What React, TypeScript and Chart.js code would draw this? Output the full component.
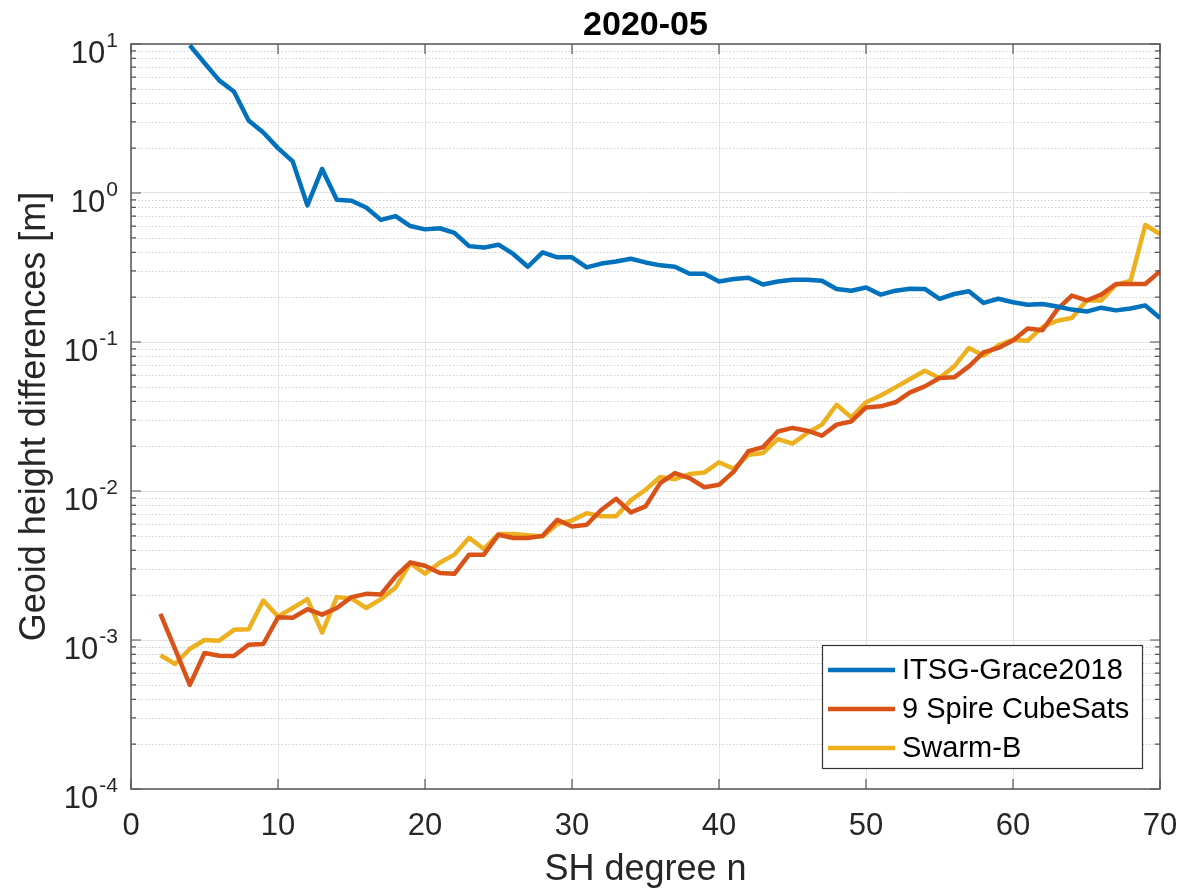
import { useEffect, useRef } from "react";
import { Chart, registerables } from "chart.js";

Chart.register(...registerables);

// ---------- data ----------
const degrees = [
  2, 3, 4, 5, 6, 7, 8, 9, 10, 11, 12, 13, 14, 15, 16, 17, 18, 19, 20, 21, 22, 23, 24, 25, 26, 27, 28, 29, 30,
  31, 32, 33, 34, 35, 36, 37, 38, 39, 40, 41, 42, 43, 44, 45, 46, 47, 48, 49, 50, 51, 52, 53, 54, 55, 56, 57,
  58, 59, 60, 61, 62, 63, 64, 65, 66, 67, 68, 69, 70,
];

const itsgGrace2018 = [
  null, null, 9.8, 7.45, 5.7, 4.8, 3.07, 2.55, 2.0, 1.63, 0.826, 1.45, 0.9, 0.887, 0.8, 0.66, 0.7, 0.6, 0.57,
  0.58, 0.54, 0.44, 0.43, 0.45, 0.39, 0.32, 0.4, 0.37, 0.37, 0.317, 0.336, 0.347, 0.362, 0.342, 0.327, 0.32,
  0.287, 0.287, 0.255, 0.265, 0.27, 0.243, 0.255, 0.262, 0.262, 0.258, 0.227, 0.221, 0.232, 0.208, 0.221,
  0.228, 0.227, 0.195, 0.21, 0.219, 0.183, 0.195, 0.185, 0.178, 0.18, 0.173, 0.165, 0.16, 0.17, 0.163, 0.168,
  0.176, 0.145,
];

const spireCubeSats = [
  1.5e-3, 0.87e-3, 0.5e-3, 0.818e-3, 0.785e-3, 0.78e-3, 0.93e-3, 0.94e-3, 1.42e-3, 1.41e-3, 1.61e-3, 1.48e-3,
  1.64e-3, 1.94e-3, 2.04e-3, 2.02e-3, 2.67e-3, 3.32e-3, 3.15e-3, 2.82e-3, 2.78e-3, 3.74e-3, 3.74e-3, 5.09e-3,
  4.84e-3, 4.84e-3, 5.0e-3, 6.41e-3, 5.78e-3, 5.94e-3, 7.49e-3, 8.87e-3, 7.18e-3, 7.88e-3, 1.13e-2, 1.32e-2,
  1.22e-2, 1.06e-2, 1.1e-2, 1.35e-2, 1.85e-2, 1.97e-2, 2.51e-2, 2.65e-2, 2.54e-2, 2.35e-2, 2.79e-2, 2.93e-2,
  3.64e-2, 3.7e-2, 3.94e-2, 4.59e-2, 5.04e-2, 5.73e-2, 5.79e-2, 6.86e-2, 8.51e-2, 9.12e-2, 0.1025, 0.123, 0.12,
  0.165, 0.205, 0.19, 0.208, 0.245, 0.245, 0.245, 0.298,
];

const swarmB = [
  0.79e-3, 0.69e-3, 0.87e-3, 1.0e-3, 0.99e-3, 1.17e-3, 1.18e-3, 1.84e-3, 1.44e-3, 1.64e-3, 1.88e-3, 1.12e-3,
  1.94e-3, 1.9e-3, 1.64e-3, 1.88e-3, 2.25e-3, 3.28e-3, 2.79e-3, 3.3e-3, 3.74e-3, 4.85e-3, 4.08e-3, 5.14e-3,
  5.14e-3, 5.05e-3, 4.95e-3, 6.0e-3, 6.35e-3, 7.1e-3, 6.76e-3, 6.76e-3, 8.65e-3, 1.02e-2, 1.24e-2, 1.2e-2,
  1.3e-2, 1.33e-2, 1.56e-2, 1.41e-2, 1.75e-2, 1.8e-2, 2.23e-2, 2.08e-2, 2.45e-2, 2.79e-2, 3.79e-2, 3.12e-2,
  3.94e-2, 4.38e-2, 4.96e-2, 5.65e-2, 6.42e-2, 5.73e-2, 6.86e-2, 9.12e-2, 8.1e-2, 9.49e-2, 0.1036, 0.102,
  0.126, 0.139, 0.145, 0.19, 0.19, 0.242, 0.258, 0.61, 0.53,
];

const seriesLabels = ["ITSG-Grace2018", "9 Spire CubeSats", "Swarm-B"];
const seriesColors = ["#0072BD", "#D95319", "#EDB120"];

const xTickValues = [0, 10, 20, 30, 40, 50, 60, 70];
const yDecadeExponents = [-4, -3, -2, -1, 0, 1];
const yMinorMultipliers = [2, 3, 4, 5, 6, 7, 8, 9];

const titleText = "2020-05";
const xTitleText = "SH degree n";
const yTitleText = "Geoid height differences [m]";

// ---------- helpers ----------
const FONT = '"Liberation Sans", Arial, Helvetica, sans-serif';
const TEXT = "#262626";
const AXIS = "#555555";

const yDecadeValues = yDecadeExponents.map((e) => Math.pow(10, e));
const yMinorValues: number[] = [];
yDecadeExponents.slice(0, -1).forEach((e) => {
  yMinorMultipliers.forEach((m) => yMinorValues.push(m * Math.pow(10, e)));
});
const allYTicks = [...yDecadeValues, ...yMinorValues].sort((a, b) => a - b);

const isDecade = (v: number) => {
  const l = Math.log10(v);
  return Math.abs(l - Math.round(l)) < 1e-6;
};

const decorPlugin = {
  id: "matlabDecor",
  beforeDatasetsDraw(chart: any) {
    const { ctx, chartArea } = chart;
    const y = chart.scales.y;
    ctx.save();
    ctx.strokeStyle = "#cfcfcf";
    ctx.lineWidth = 1;
    ctx.setLineDash([1.5, 2]);
    yMinorValues.forEach((v) => {
      const py = Math.round(y.getPixelForValue(v)) + 0.5;
      ctx.beginPath();
      ctx.moveTo(chartArea.left, py);
      ctx.lineTo(chartArea.right, py);
      ctx.stroke();
    });
    ctx.restore();
  },
  afterDatasetsDraw(chart: any) {
    const { ctx, chartArea } = chart;
    const { left, right, top, bottom } = chartArea;
    const xs = chart.scales.x;
    const ys = chart.scales.y;
    ctx.save();

    // axes box
    ctx.strokeStyle = AXIS;
    ctx.lineWidth = 1.5;
    ctx.setLineDash([]);
    ctx.strokeRect(left, top, right - left, bottom - top);

    // x tick marks (inward, top & bottom)
    ctx.lineWidth = 1.2;
    xTickValues.forEach((v) => {
      const px = xs.getPixelForValue(v);
      ctx.beginPath();
      ctx.moveTo(px, bottom);
      ctx.lineTo(px, bottom - 10);
      ctx.moveTo(px, top);
      ctx.lineTo(px, top + 10);
      ctx.stroke();
    });
    // y tick marks (inward, left & right)
    allYTicks.forEach((v) => {
      const py = ys.getPixelForValue(v);
      const len = isDecade(v) ? 10 : 5;
      ctx.beginPath();
      ctx.moveTo(left, py);
      ctx.lineTo(left + len, py);
      ctx.moveTo(right, py);
      ctx.lineTo(right - len, py);
      ctx.stroke();
    });

    // x tick labels
    ctx.fillStyle = TEXT;
    ctx.font = `31px ${FONT}`;
    ctx.textAlign = "center";
    ctx.textBaseline = "alphabetic";
    xTickValues.forEach((v) => {
      ctx.fillText(String(v), xs.getPixelForValue(v), 835);
    });

    // y tick labels: 10 with superscript exponent
    yDecadeExponents.forEach((e) => {
      const py = ys.getPixelForValue(Math.pow(10, e));
      const expStr = String(e);
      ctx.font = `21px ${FONT}`;
      const expW = ctx.measureText(expStr).width;
      ctx.textAlign = "right";
      ctx.fillText(expStr, 118, py + 3);
      ctx.font = `31px ${FONT}`;
      ctx.fillText("10", 118 - expW - 1, py + 19);
    });

    // x axis title
    ctx.font = `36px ${FONT}`;
    ctx.textAlign = "center";
    ctx.fillText(xTitleText, (left + right) / 2, 880);

    // y axis title
    ctx.save();
    ctx.translate(45, (top + bottom) / 2);
    ctx.rotate(-Math.PI / 2);
    ctx.textAlign = "center";
    ctx.fillText(yTitleText, 0, 0);
    ctx.restore();

    // title
    ctx.fillStyle = "#000000";
    ctx.font = `bold 34px ${FONT}`;
    ctx.textAlign = "center";
    ctx.fillText(titleText, (left + right) / 2, 35);

    // legend
    const lx = 822;
    const ly = 645;
    const lw = 320;
    const lh = 123;
    ctx.fillStyle = "#ffffff";
    ctx.fillRect(lx, ly, lw, lh);
    ctx.strokeStyle = "#333333";
    ctx.lineWidth = 1.2;
    ctx.strokeRect(lx + 0.5, ly + 0.5, lw, lh);
    const rowY = [670, 709, 748];
    chart.data.datasets.forEach((ds: any, i: number) => {
      ctx.strokeStyle = ds.borderColor;
      ctx.lineWidth = 4.5;
      ctx.beginPath();
      ctx.moveTo(828, rowY[i]);
      ctx.lineTo(895, rowY[i]);
      ctx.stroke();
      ctx.fillStyle = "#000000";
      ctx.font = `29px ${FONT}`;
      ctx.textAlign = "left";
      ctx.textBaseline = "middle";
      ctx.fillText(ds.label, 902, rowY[i] + 1);
    });

    ctx.restore();
  },
};

export default function App() {
  const canvasRef = useRef<HTMLCanvasElement | null>(null);

  useEffect(() => {
    if (!canvasRef.current) return;
    const seriesValues = [itsgGrace2018, spireCubeSats, swarmB];
    const chart = new Chart(canvasRef.current, {
      type: "line",
      data: {
        datasets: seriesValues.map((vals, i) => ({
          label: seriesLabels[i],
          data: degrees.map((d, j) => ({ x: d, y: vals[j] })),
          borderColor: seriesColors[i],
          backgroundColor: seriesColors[i],
          borderWidth: 4.5,
          pointRadius: 0,
          tension: 0,
          spanGaps: false,
          borderJoinStyle: "round" as const,
        })),
      },
      options: {
        animation: false,
        responsive: true,
        maintainAspectRatio: false,
        layout: { padding: { top: 44, right: 21, left: 0, bottom: 0 } },
        plugins: {
          legend: { display: false },
          title: { display: false },
          tooltip: { enabled: false },
        },
        scales: {
          x: {
            type: "linear",
            min: 0,
            max: 70,
            afterBuildTicks: (s: any) => {
              s.ticks = xTickValues.map((v) => ({ value: v }));
            },
            afterFit: (s: any) => {
              s.height = 103;
            },
            ticks: { display: false },
            grid: { color: "#e3e3e3", lineWidth: 1, drawTicks: false },
            border: { display: false },
          },
          y: {
            type: "logarithmic",
            min: 1e-4,
            max: 10,
            afterBuildTicks: (s: any) => {
              s.ticks = allYTicks.map((v) => ({ value: v, major: isDecade(v) }));
            },
            afterFit: (s: any) => {
              s.width = 131;
            },
            ticks: { display: false },
            grid: {
              color: (c: any) => (c.tick && isDecade(c.tick.value) ? "#e3e3e3" : "rgba(0,0,0,0)"),
              lineWidth: 1,
              drawTicks: false,
            },
            border: { display: false },
          },
        },
      },
      plugins: [decorPlugin],
    });
    return () => chart.destroy();
  }, []);

  return (
    <div
      style={{
        position: "fixed",
        left: 0,
        top: 0,
        width: 1181,
        height: 892,
        background: "#ffffff",
      }}
    >
      <canvas ref={canvasRef} />
    </div>
  );
}
